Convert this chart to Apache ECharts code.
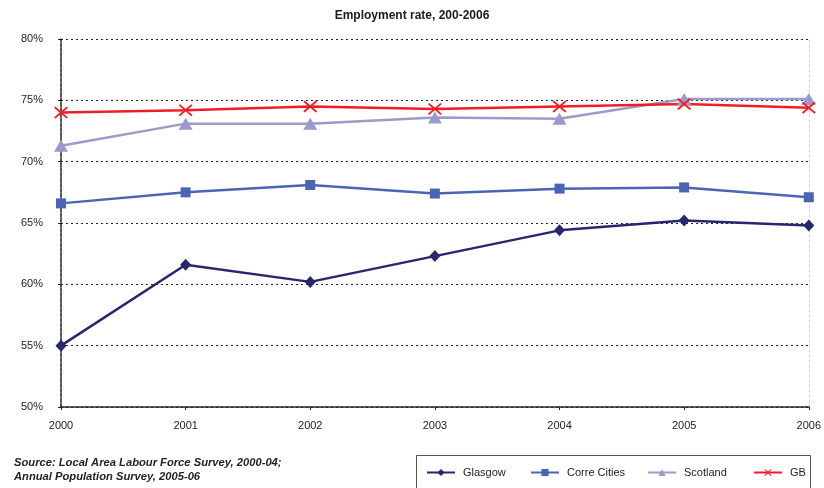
<!DOCTYPE html>
<html>
<head>
<meta charset="utf-8">
<script src="https://cdn.jsdelivr.net/npm/echarts@6/dist/echarts.min.js"></script>
<style>
  html, body { margin: 0; padding: 0; background: #fff; }
  #chart { width: 824px; height: 488px; }
</style>
</head>
<body>
<div id="chart"></div>
<script>
// Employment rate by area, 2000-2006 (percent)
const years = ['2000', '2001', '2002', '2003', '2004', '2005', '2006'];
const glasgow = [55.0, 61.6, 60.2, 62.3, 64.4, 65.2, 64.8];
const coreCities = [66.6, 67.5, 68.1, 67.4, 67.8, 67.9, 67.1];
const scotland = [71.3, 73.1, 73.1, 73.6, 73.5, 75.1, 75.1];
const gb = [74.0, 74.2, 74.5, 74.3, 74.5, 74.7, 74.4];
const yTicks = [50, 55, 60, 65, 70, 75, 80];

const FONT = '"Liberation Sans", Arial, sans-serif';
const crossPath = 'path://M0,1L1,0L5,4L9,0L10,1L6,5L10,9L9,10L5,6L1,10L0,9L4,5Z';

const seriesDefs = [
  { name: 'Glasgow', data: glasgow, color: '#27276f', symbol: 'diamond', size: [11, 12] },
  { name: 'Corre Cities', data: coreCities, color: '#4a65b4', symbol: 'rect', size: 10 },
  { name: 'Scotland', data: scotland, color: '#9a9acc', symbol: 'triangle', size: [14, 12] },
  { name: 'GB', data: gb, color: '#f21d24', symbol: crossPath, size: [14, 12] }
];

const legendPos = [426, 530, 647, 753];

const chart = echarts.init(document.getElementById('chart'), null, { renderer: 'canvas' });

chart.setOption({
  backgroundColor: '#ffffff',
  animation: false,
  title: {
    text: 'Employment rate, 200-2006',
    left: 'center',
    top: 5,
    textStyle: { fontFamily: FONT, fontSize: 12, fontWeight: 'bold', color: '#1a1a1a' }
  },
  grid: { left: 61, right: 12, top: 39, bottom: 81, containLabel: false },
  xAxis: {
    type: 'category',
    data: years,
    boundaryGap: false,
    axisLine: { show: true, lineStyle: { color: '#222', width: 1.5, type: [4, 1] } },
    axisTick: { show: true, length: 3, lineStyle: { color: '#222' } },
    axisLabel: { fontFamily: FONT, fontSize: 11, color: '#222', margin: 13 },
    splitLine: { show: false }
  },
  yAxis: [
    {
      type: 'value',
      min: yTicks[0],
      max: yTicks[yTicks.length - 1],
      interval: 5,
      axisLine: { show: true, lineStyle: { color: '#222', width: 1.5, type: [4, 1] } },
      axisTick: { show: true, length: 3, lineStyle: { color: '#222' } },
      axisLabel: { fontFamily: FONT, fontSize: 11, color: '#222', margin: 18, formatter: v => v + '%' },
      splitLine: { show: true, lineStyle: { color: '#222', width: 1.2, type: [2, 3] } }
    },
    {
      type: 'value',
      position: 'right',
      min: yTicks[0],
      max: yTicks[yTicks.length - 1],
      interval: 5,
      axisLine: { show: true, lineStyle: { color: '#d0d0d0', width: 1, type: [2, 3] } },
      axisTick: { show: false },
      axisLabel: { show: false },
      splitLine: { show: false }
    }
  ],
  legend: seriesDefs.map((s, i) => ({
    data: [s.name],
    left: legendPos[i],
    top: 467,
    itemWidth: 28,
    itemHeight: 9,
    itemGap: 0,
    padding: 0,
    textStyle: { fontFamily: FONT, fontSize: 11, color: '#222', padding: [0, 0, 0, 3] }
  })),
  graphic: [
    {
      type: 'rect',
      shape: { x: 416.5, y: 455.5, width: 394, height: 40 },
      style: { fill: 'none', stroke: '#555', lineWidth: 1 },
      z: 0
    },
    {
      type: 'text',
      left: 14,
      top: 456,
      style: {
        text: 'Source: Local Area Labour Force Survey, 2000-04;\nAnnual Population Survey, 2005-06',
        font: 'italic bold 11.2px "Liberation Sans", Arial, sans-serif',
        fill: '#222',
        lineHeight: 14
      }
    }
  ],
  series: seriesDefs.map(s => ({
    name: s.name,
    type: 'line',
    data: s.data,
    symbol: s.symbol,
    symbolSize: s.size,
    showAllSymbol: true,
    lineStyle: { color: s.color, width: 2.5 },
    itemStyle: { color: s.color },
    emphasis: { disabled: true }
  }))
});
</script>
</body>
</html>
